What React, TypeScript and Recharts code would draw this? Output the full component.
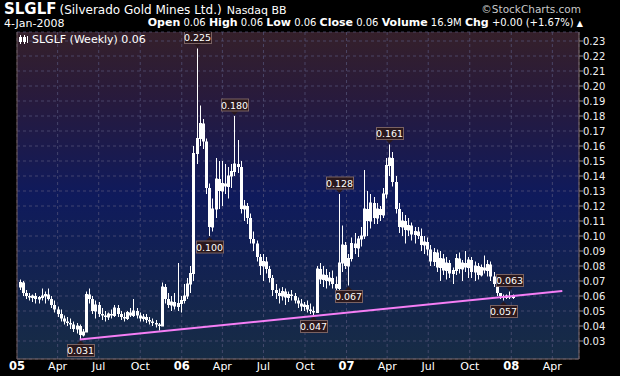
import React from "react";
import { ComposedChart, Bar, Line, XAxis, YAxis, CartesianGrid, ReferenceLine } from "recharts";

// weekly bars, first one is Fri 7-Jan-2005, last one Fri 4-Jan-2008
const OPEN = [
  0.066, 0.069, 0.062, 0.060, 0.059, 0.060, 0.058, 0.059, 0.060, 0.061, 0.058, 0.054, 0.051,
  0.048, 0.045, 0.043, 0.042, 0.041, 0.038, 0.040, 0.034, 0.036, 0.061, 0.058, 0.050, 0.054,
  0.048, 0.047, 0.046, 0.048, 0.047, 0.052, 0.048, 0.046, 0.045, 0.049, 0.047, 0.050, 0.047,
  0.045, 0.046, 0.044, 0.043, 0.042, 0.041, 0.040, 0.066, 0.058, 0.054, 0.056, 0.053, 0.055,
  0.057, 0.060, 0.068, 0.075, 0.155, 0.165, 0.175, 0.163, 0.132, 0.106, 0.118, 0.138, 0.130,
  0.135, 0.133, 0.140, 0.143, 0.148, 0.146, 0.118, 0.120, 0.112, 0.098, 0.095, 0.086, 0.080,
  0.083, 0.078, 0.072, 0.064, 0.062, 0.060, 0.063, 0.059, 0.061, 0.060, 0.057, 0.055, 0.053,
  0.054, 0.051, 0.050, 0.049, 0.078, 0.071, 0.074, 0.070, 0.072, 0.068, 0.065, 0.082, 0.094,
  0.080, 0.085, 0.095, 0.092, 0.098, 0.100, 0.118, 0.110, 0.122, 0.112, 0.118, 0.114, 0.128,
  0.147, 0.152, 0.136, 0.118, 0.106, 0.110, 0.104, 0.107, 0.101, 0.103, 0.100, 0.094, 0.096,
  0.091, 0.083, 0.089, 0.079, 0.085, 0.077, 0.082, 0.075, 0.077, 0.085, 0.078, 0.082, 0.079,
  0.084, 0.076, 0.080, 0.074, 0.079, 0.077, 0.081, 0.073, 0.068, 0.062, 0.060, 0.059, 0.060, 0.059,
];
const HIGH = [
  0.071, 0.070, 0.064, 0.062, 0.061, 0.062, 0.060, 0.065, 0.063, 0.065, 0.060, 0.057, 0.053,
  0.051, 0.047, 0.046, 0.045, 0.043, 0.042, 0.041, 0.038, 0.063, 0.065, 0.060, 0.057, 0.056,
  0.052, 0.050, 0.049, 0.051, 0.054, 0.054, 0.050, 0.049, 0.050, 0.052, 0.058, 0.052, 0.049,
  0.048, 0.048, 0.046, 0.045, 0.044, 0.042, 0.069, 0.068, 0.062, 0.060, 0.062, 0.082, 0.060,
  0.068, 0.072, 0.080, 0.160, 0.225, 0.187, 0.178, 0.165, 0.135, 0.125, 0.152, 0.150, 0.150,
  0.148, 0.146, 0.148, 0.180, 0.164, 0.150, 0.124, 0.122, 0.115, 0.103, 0.097, 0.088, 0.088,
  0.086, 0.080, 0.074, 0.068, 0.065, 0.066, 0.065, 0.063, 0.064, 0.062, 0.059, 0.058, 0.056,
  0.057, 0.055, 0.053, 0.080, 0.082, 0.080, 0.078, 0.076, 0.077, 0.073, 0.128, 0.107, 0.096,
  0.088, 0.099, 0.102, 0.100, 0.106, 0.144, 0.130, 0.128, 0.126, 0.122, 0.120, 0.132, 0.152,
  0.161, 0.156, 0.140, 0.122, 0.116, 0.114, 0.112, 0.109, 0.106, 0.106, 0.105, 0.100, 0.099,
  0.094, 0.092, 0.091, 0.090, 0.088, 0.086, 0.084, 0.079, 0.088, 0.089, 0.084, 0.090, 0.086,
  0.086, 0.083, 0.082, 0.081, 0.087, 0.084, 0.083, 0.076, 0.069, 0.062, 0.061, 0.061, 0.063, 0.061,
];
const LOW = [
  0.064, 0.060, 0.058, 0.057, 0.056, 0.055, 0.055, 0.057, 0.055, 0.057, 0.052, 0.049, 0.046,
  0.043, 0.041, 0.040, 0.038, 0.036, 0.035, 0.031, 0.033, 0.036, 0.055, 0.048, 0.045, 0.046,
  0.044, 0.043, 0.044, 0.045, 0.046, 0.046, 0.044, 0.043, 0.044, 0.046, 0.046, 0.045, 0.043,
  0.043, 0.042, 0.041, 0.040, 0.039, 0.037, 0.040, 0.055, 0.052, 0.050, 0.051, 0.050, 0.049,
  0.055, 0.058, 0.062, 0.070, 0.148, 0.160, 0.158, 0.128, 0.100, 0.103, 0.112, 0.118, 0.120,
  0.128, 0.125, 0.132, 0.140, 0.142, 0.115, 0.110, 0.108, 0.095, 0.090, 0.083, 0.074, 0.070,
  0.075, 0.069, 0.060, 0.058, 0.055, 0.057, 0.054, 0.056, 0.057, 0.055, 0.052, 0.050, 0.050,
  0.049, 0.048, 0.047, 0.049, 0.068, 0.066, 0.065, 0.067, 0.065, 0.062, 0.064, 0.076, 0.078,
  0.067, 0.083, 0.088, 0.086, 0.093, 0.098, 0.100, 0.105, 0.108, 0.108, 0.110, 0.112, 0.125,
  0.140, 0.133, 0.115, 0.102, 0.100, 0.095, 0.100, 0.097, 0.095, 0.098, 0.090, 0.088, 0.087,
  0.080, 0.080, 0.076, 0.070, 0.074, 0.071, 0.072, 0.068, 0.074, 0.075, 0.070, 0.076, 0.072,
  0.072, 0.070, 0.071, 0.073, 0.075, 0.073, 0.070, 0.066, 0.060, 0.058, 0.057, 0.058, 0.058, 0.058,
];
const CLOSE = [
  0.069, 0.062, 0.060, 0.059, 0.060, 0.058, 0.059, 0.060, 0.061, 0.058, 0.054, 0.051, 0.048,
  0.045, 0.043, 0.042, 0.041, 0.038, 0.040, 0.034, 0.036, 0.061, 0.058, 0.050, 0.054, 0.048,
  0.047, 0.046, 0.048, 0.047, 0.052, 0.048, 0.046, 0.045, 0.049, 0.047, 0.050, 0.047, 0.045,
  0.046, 0.044, 0.043, 0.042, 0.041, 0.040, 0.066, 0.058, 0.054, 0.056, 0.053, 0.055, 0.057,
  0.060, 0.068, 0.075, 0.155, 0.165, 0.175, 0.163, 0.132, 0.106, 0.118, 0.138, 0.130, 0.135,
  0.133, 0.140, 0.143, 0.148, 0.146, 0.118, 0.120, 0.112, 0.098, 0.095, 0.086, 0.080, 0.083,
  0.078, 0.072, 0.064, 0.062, 0.060, 0.063, 0.059, 0.061, 0.060, 0.057, 0.055, 0.053, 0.054,
  0.051, 0.050, 0.049, 0.078, 0.071, 0.074, 0.070, 0.072, 0.068, 0.065, 0.082, 0.094, 0.080,
  0.085, 0.095, 0.092, 0.098, 0.100, 0.118, 0.110, 0.122, 0.112, 0.118, 0.114, 0.128, 0.147,
  0.152, 0.136, 0.118, 0.106, 0.110, 0.104, 0.107, 0.101, 0.103, 0.100, 0.094, 0.096, 0.091,
  0.083, 0.089, 0.079, 0.085, 0.077, 0.082, 0.075, 0.077, 0.085, 0.078, 0.082, 0.079, 0.084,
  0.076, 0.080, 0.074, 0.079, 0.077, 0.081, 0.073, 0.068, 0.062, 0.060, 0.059, 0.060, 0.059, 0.060,
];

// annotated highs / lows (week index, side)
const MARKS = [
  { week: 19, side: "lo" },
  { week: 56, side: "hi" },
  { week: 60, side: "lo" },
  { week: 68, side: "hi" },
  { week: 93, side: "lo" },
  { week: 101, side: "hi" },
  { week: 104, side: "lo" },
  { week: 117, side: "hi" },
  { week: 153, side: "lo" },
  { week: 155, side: "hi" },
];

// pink support line, days since 1-Jan-2005
const TREND = [
  { day: 139, v: 0.031 },
  { day: 1208, v: 0.0633 },
];

const FIRST_DAY = 6;
const X_TICKS = [0, 90, 181, 273, 365, 455, 546, 638, 730, 820, 911, 1003, 1095, 1186];
const X_LABELS = ["05", "Apr", "Jul", "Oct", "06", "Apr", "Jul", "Oct", "07", "Apr", "Jul", "Oct", "08", "Apr"];
const Y_TICKS = [0.03, 0.04, 0.05, 0.06, 0.07, 0.08, 0.09, 0.1, 0.11, 0.12, 0.13, 0.14, 0.15, 0.16, 0.17, 0.18, 0.19, 0.2, 0.21, 0.22, 0.23];

const FONT = '"DejaVu Sans", Verdana, sans-serif';

const candles = OPEN.map((o, i) => ({
  day: FIRST_DAY + 7 * i,
  open: o,
  high: HIGH[i],
  low: LOW[i],
  close: CLOSE[i],
  range: [LOW[i], HIGH[i]],
  mark: MARKS.find((m) => m.week === i)?.side,
}));

function Tag({ cx, y, text, up }: { cx: number; y: number; text: string; up: boolean }) {
  // up = box sits above the point it marks
  const w = 27;
  const h = 12;
  const bx = Math.round(cx - w / 2) + 0.5;
  const by = up ? y - 5 - h : y + 5;
  const tri = up
    ? `${cx - 4},${by + h} ${cx + 4},${by + h} ${cx},${by + h + 4}`
    : `${cx - 4},${by} ${cx + 4},${by} ${cx},${by - 4}`;
  return (
    <g>
      <polygon points={tri} fill="#2a181d" />
      <rect x={bx} y={by} width={w} height={h} fill="#2a181d" stroke="#7a6262" strokeWidth={1} />
      <text x={cx} y={by + 9.5} textAnchor="middle" fill="#fff" fontSize={9.5} fontFamily={FONT}>
        {text}
      </text>
    </g>
  );
}

function Candle(props: any) {
  const { x, y, width, height, payload } = props;
  if (x == null || y == null) return null;
  const top = Math.min(y, y + height);
  const bot = Math.max(y, y + height);
  const { open, high, low, close, mark } = payload;
  const span = high - low || 1e-9;
  const toY = (v: number) => top + ((high - v) / span) * (bot - top);
  const px = Math.round(x + width / 2);
  const oy = toY(open);
  const cy = toY(close);
  const bTop = Math.min(oy, cy);
  const bH = Math.max(Math.abs(oy - cy), 1);
  return (
    <g>
      <line x1={px + 0.5} x2={px + 0.5} y1={top} y2={bot} stroke="#fff" strokeWidth={1} />
      {close >= open ? (
        <rect x={px - 0.5} y={bTop} width={2} height={bH} fill="none" stroke="#fff" strokeWidth={1} />
      ) : (
        <rect x={px - 1} y={bTop} width={3} height={bH} fill="#fff" />
      )}
      {mark === "hi" && <Tag cx={px + 0.5} y={top} text={high.toFixed(3)} up />}
      {mark === "lo" && <Tag cx={px + 0.5} y={bot} text={low.toFixed(3)} up={false} />}
    </g>
  );
}

function XTick({ x, y, payload }: any) {
  const i = X_TICKS.indexOf(payload.value);
  const isYear = i % 4 === 0;
  return (
    <text
      x={x}
      y={y + 11}
      textAnchor="middle"
      fill="#fff"
      fontSize={isYear ? 11.5 : 11}
      fontWeight={isYear ? "bold" : "normal"}
      fontFamily={FONT}
    >
      {X_LABELS[i]}
    </text>
  );
}

export default function App() {
  return (
    <div
      style={{
        position: "absolute",
        left: 0,
        top: 0,
        width: 620,
        height: 376,
        background: "#000",
        overflow: "hidden",
        fontFamily: FONT,
        color: "#fff",
      }}
    >
      <div style={{ position: "absolute", left: 4, top: 1, whiteSpace: "nowrap", lineHeight: "16px" }}>
        <span style={{ fontSize: 15, fontWeight: "bold" }}>SLGLF</span>
        <span style={{ fontSize: 12, marginLeft: 3 }}>(Silverado Gold Mines Ltd.)</span>
        <span style={{ fontSize: 11, marginLeft: 5 }}>Nasdaq BB</span>
      </div>
      <div style={{ position: "absolute", right: 39, top: 3, fontSize: 10.5, color: "#c8c8c8" }}>©StockCharts.com</div>
      <div style={{ position: "absolute", left: 4, top: 17, fontSize: 11 }}>4-Jan-2008</div>
      <div style={{ position: "absolute", right: 37, top: 16, fontSize: 10, whiteSpace: "nowrap", lineHeight: "14px" }}>
        <b style={{ fontSize: 11 }}>Open</b> 0.06 <b style={{ fontSize: 11 }}>High</b> 0.06{" "}
        <b style={{ fontSize: 11 }}>Low</b> 0.06 <b style={{ fontSize: 11 }}>Close</b> 0.06{" "}
        <b style={{ fontSize: 11 }}>Volume</b> 16.9M <b style={{ fontSize: 11 }}>Chg</b> +0.00 (+1.67%){" "}
        <span style={{ fontSize: 8 }}>▲</span>
      </div>

      <ComposedChart
        width={620}
        height={376}
        data={candles}
        margin={{ top: 32, right: 0, bottom: 0, left: 17 }}
      >
        <defs>
          <linearGradient id="bg" x1="0" y1="0" x2="0" y2="1">
            <stop offset="0%" stopColor="#35202a" />
            <stop offset="20%" stopColor="#281a3c" />
            <stop offset="50%" stopColor="#0f1a5c" />
            <stop offset="100%" stopColor="#172c45" />
          </linearGradient>
        </defs>
        <CartesianGrid fill="url(#bg)" stroke="#55557a" strokeOpacity={0.7} strokeDasharray="3 3" />
        <XAxis
          dataKey="day"
          type="number"
          domain={[0, 1245]}
          allowDataOverflow
          ticks={X_TICKS}
          interval={0}
          height={17}
          tickSize={0}
          tickMargin={0}
          tick={<XTick />}
          axisLine={{ stroke: "#7d6868" }}
        />
        <YAxis
          orientation="right"
          domain={[0.018, 0.236]}
          allowDataOverflow
          ticks={Y_TICKS}
          interval={0}
          width={41}
          tickSize={4}
          tickMargin={0}
          tickFormatter={(v: number) => v.toFixed(2)}
          tick={{ fill: "#f0f0f0", fontSize: 10, fontFamily: FONT }}
          tickLine={{ stroke: "#9a8a8a" }}
          axisLine={{ stroke: "#7d6868" }}
        />
        <ReferenceLine x={0} stroke="#6d5858" ifOverflow="visible" />
        <Line
          data={TREND}
          dataKey="v"
          stroke="#f57ef5"
          strokeWidth={2}
          dot={false}
          isAnimationActive={false}
        />
        <Bar dataKey="range" barSize={3} shape={<Candle />} isAnimationActive={false} />
      </ComposedChart>

      <div style={{ position: "absolute", left: 19, top: 33, fontSize: 11, display: "flex", alignItems: "center" }}>
        <svg width={10} height={9} style={{ marginRight: 3 }}>
          <line x1={1.5} x2={1.5} y1={0} y2={9} stroke="#fff" />
          <rect x={0} y={2} width={3} height={5} fill="#fff" />
          <line x1={5.5} x2={5.5} y1={0} y2={9} stroke="#fff" />
          <rect x={4.5} y={2.5} width={2} height={4} fill="none" stroke="#fff" />
          <line x1={8.5} x2={8.5} y1={1} y2={8} stroke="#fff" />
        </svg>
        <span>SLGLF (Weekly) 0.06</span>
      </div>
    </div>
  );
}
